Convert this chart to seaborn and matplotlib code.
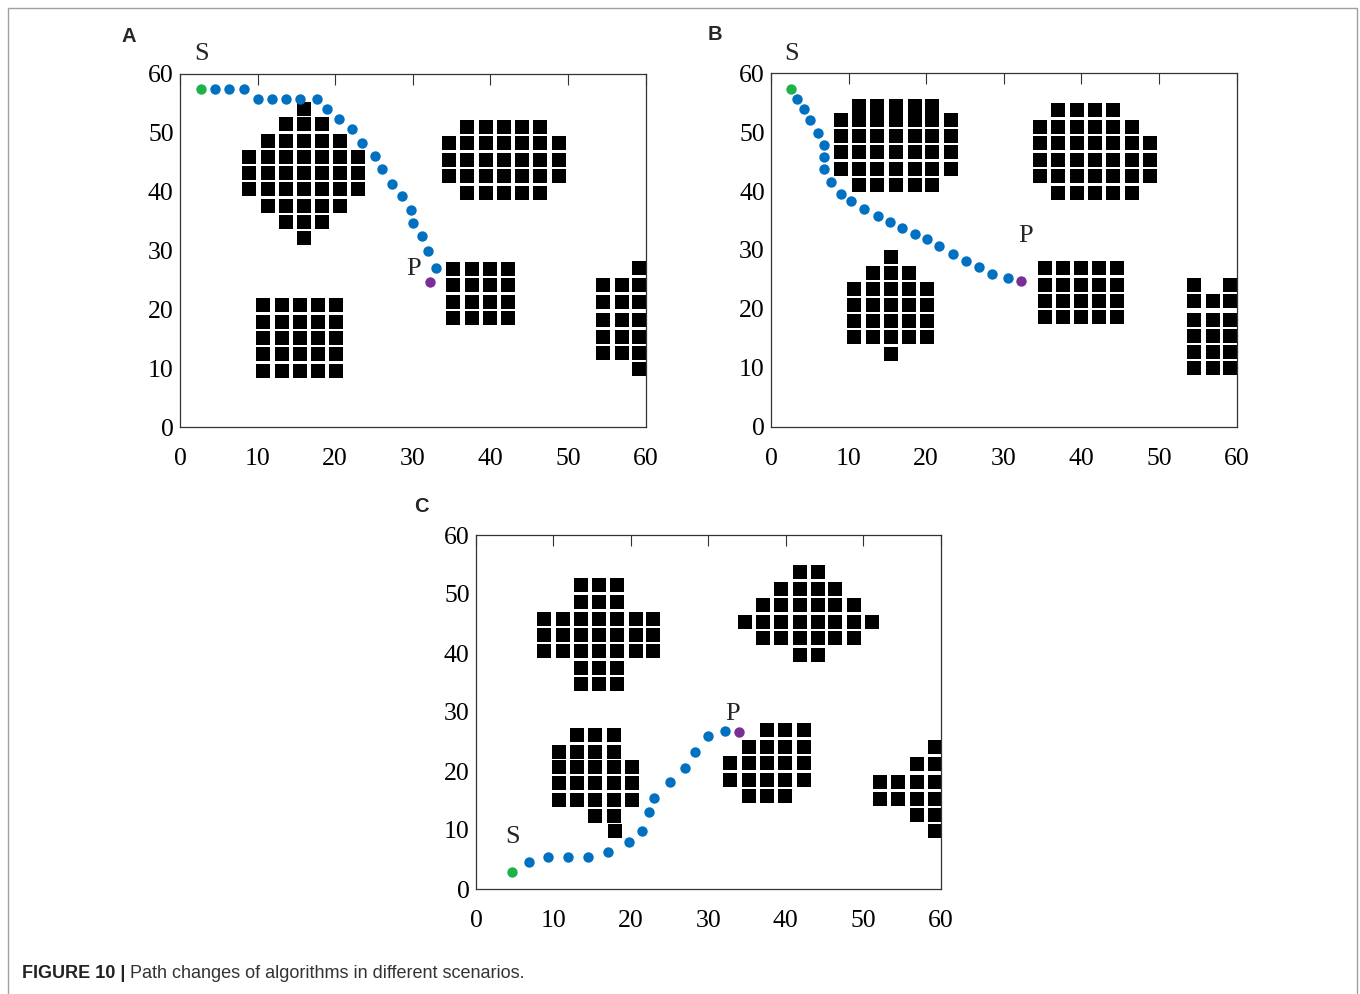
import pandas as pd
import seaborn as sns
import matplotlib.pyplot as plt
from matplotlib.patches import Rectangle

# obstacle squares per scenario, one entry per row: (y, [x of each square])
a_blocks = [
    (54.1, [16.0]),
    (51.5, [13.6, 16.0, 18.3]),
    (48.7, [11.3, 13.6, 16.0, 18.3, 20.6]),
    (45.9, [8.9, 11.3, 13.6, 16.0, 18.3, 20.6, 22.9]),
    (43.2, [8.9, 11.3, 13.6, 16.0, 18.3, 20.6, 22.9]),
    (40.4, [8.9, 11.3, 13.6, 16.0, 18.3, 20.6, 22.9]),
    (37.5, [11.3, 13.6, 16.0, 18.3, 20.6]),
    (34.9, [13.6, 16.0, 18.3]),
    (32.1, [16.0]),
    (20.7, [10.7, 13.1, 15.4, 17.8, 20.1]),
    (17.9, [10.7, 13.1, 15.4, 17.8, 20.1]),
    (15.2, [10.7, 13.1, 15.4, 17.8, 20.1]),
    (12.4, [10.7, 13.1, 15.4, 17.8, 20.1]),
    (9.6, [10.7, 13.1, 15.4, 17.8, 20.1]),
    (51.0, [37.0, 39.4, 41.7, 44.1, 46.4]),
    (48.2, [34.7, 37.0, 39.4, 41.7, 44.1, 46.4, 48.8]),
    (45.4, [34.7, 37.0, 39.4, 41.7, 44.1, 46.4, 48.8]),
    (42.6, [34.7, 37.0, 39.4, 41.7, 44.1, 46.4, 48.8]),
    (39.8, [37.0, 39.4, 41.7, 44.1, 46.4]),
    (26.9, [35.2, 37.6, 39.9, 42.3]),
    (24.1, [35.2, 37.6, 39.9, 42.3]),
    (21.3, [35.2, 37.6, 39.9, 42.3]),
    (18.6, [35.2, 37.6, 39.9, 42.3]),
    (27.1, [59.2]),
    (24.2, [54.5, 56.9, 59.2]),
    (21.3, [54.5, 56.9, 59.2]),
    (18.2, [54.5, 56.9, 59.2]),
    (15.3, [54.5, 56.9, 59.2]),
    (12.6, [54.5, 56.9, 59.2]),
    (9.9, [59.2]),
]

b_blocks = [
    (54.5, [11.4, 13.7, 16.1, 18.5, 20.8]),
    (52.1, [9.0, 11.4, 13.7, 16.1, 18.5, 20.8, 23.2]),
    (49.4, [9.0, 11.4, 13.7, 16.1, 18.5, 20.8, 23.2]),
    (46.6, [9.0, 11.4, 13.7, 16.1, 18.5, 20.8, 23.2]),
    (43.8, [9.0, 11.4, 13.7, 16.1, 18.5, 20.8, 23.2]),
    (41.0, [11.4, 13.7, 16.1, 18.5, 20.8]),
    (53.8, [37.0, 39.4, 41.8, 44.1]),
    (50.8, [34.7, 37.0, 39.4, 41.8, 44.1, 46.5]),
    (48.1, [34.7, 37.0, 39.4, 41.8, 44.1, 46.5, 48.8]),
    (45.3, [34.7, 37.0, 39.4, 41.8, 44.1, 46.5, 48.8]),
    (42.5, [34.7, 37.0, 39.4, 41.8, 44.1, 46.5, 48.8]),
    (39.7, [37.0, 39.4, 41.8, 44.1, 46.5]),
    (28.8, [15.4]),
    (26.1, [13.1, 15.4, 17.8]),
    (23.4, [10.7, 13.1, 15.4, 17.8, 20.1]),
    (20.7, [10.7, 13.1, 15.4, 17.8, 20.1]),
    (17.9, [10.7, 13.1, 15.4, 17.8, 20.1]),
    (15.2, [10.7, 13.1, 15.4, 17.8, 20.1]),
    (12.3, [15.4]),
    (26.9, [35.3, 37.6, 40.0, 42.3, 44.6]),
    (24.1, [35.3, 37.6, 40.0, 42.3, 44.6]),
    (21.3, [35.3, 37.6, 40.0, 42.3, 44.6]),
    (18.6, [35.3, 37.6, 40.0, 42.3, 44.6]),
    (24.1, [54.5, 59.2]),
    (21.3, [54.5, 56.9, 59.2]),
    (18.2, [54.5, 56.9, 59.2]),
    (15.4, [54.5, 56.9, 59.2]),
    (12.6, [54.5, 56.9, 59.2]),
    (10.0, [54.5, 56.9, 59.2]),
]

c_blocks = [
    (51.5, [13.5, 15.9, 18.2]),
    (48.6, [13.5, 15.9, 18.2]),
    (45.8, [8.8, 11.2, 13.5, 15.9, 18.2, 20.6, 22.9]),
    (43.1, [8.8, 11.2, 13.5, 15.9, 18.2, 20.6, 22.9]),
    (40.4, [8.8, 11.2, 13.5, 15.9, 18.2, 20.6, 22.9]),
    (37.5, [13.5, 15.9, 18.2]),
    (34.7, [13.5, 15.9, 18.2]),
    (53.7, [41.8, 44.1]),
    (50.9, [39.4, 41.8, 44.1, 46.4]),
    (48.1, [37.1, 39.4, 41.8, 44.1, 46.4, 48.8]),
    (45.3, [34.7, 37.1, 39.4, 41.8, 44.1, 46.4, 48.8, 51.1]),
    (42.5, [37.1, 39.4, 41.8, 44.1, 46.4, 48.8]),
    (39.7, [41.8, 44.1]),
    (26.1, [13.0, 15.4, 17.8]),
    (23.3, [10.7, 13.0, 15.4, 17.8]),
    (20.6, [10.7, 13.0, 15.4, 17.8, 20.1]),
    (17.9, [10.7, 13.0, 15.4, 17.8, 20.1]),
    (15.1, [10.7, 13.0, 15.4, 17.8, 20.1]),
    (12.3, [15.4, 17.8]),
    (9.8, [17.9]),
    (26.9, [37.6, 39.9, 42.3]),
    (24.1, [35.2, 37.6, 39.9, 42.3]),
    (21.4, [32.8, 35.2, 37.6, 39.9, 42.3]),
    (18.5, [32.8, 35.2, 37.6, 39.9, 42.3]),
    (15.7, [35.2, 37.6, 39.9]),
    (24.1, [59.2]),
    (21.2, [56.9, 59.2]),
    (18.1, [52.1, 54.5, 56.9, 59.2]),
    (15.3, [52.1, 54.5, 56.9, 59.2]),
    (12.6, [56.9, 59.2]),
    (9.9, [59.2]),
]

# path points, first = start S, last = end P
a_path_x = [2.7, 4.5, 6.3, 8.2, 10.0, 11.8, 13.6, 15.5, 17.6, 19.0, 20.5, 22.2,
            23.5, 25.1, 26.0, 27.3, 28.6, 29.8, 30.0, 31.2, 31.9, 33.0, 32.2]
a_path_y = [57.5, 57.5, 57.5, 57.5, 55.8, 55.8, 55.8, 55.8, 55.8, 54.1, 52.4, 50.6,
            48.3, 46.1, 43.8, 41.4, 39.2, 36.9, 34.7, 32.5, 30.0, 27.0, 24.7]

b_path_x = [2.6, 3.4, 4.2, 5.0, 6.0, 6.8, 6.8, 6.8, 7.7, 9.0, 10.3, 12.0, 13.8,
            15.3, 16.9, 18.6, 20.1, 21.7, 23.4, 25.1, 26.8, 28.5, 30.5, 32.2]
b_path_y = [57.3, 55.7, 54.0, 52.1, 49.9, 47.9, 45.8, 43.8, 41.6, 39.5, 38.3, 37.0, 35.7,
            34.8, 33.7, 32.7, 31.8, 30.7, 29.3, 28.2, 27.1, 26.0, 25.2, 24.7]

c_path_x = [4.7, 6.8, 9.3, 11.9, 14.5, 17.1, 19.7, 21.4, 22.3, 23.0, 25.1, 27.0,
            28.3, 30.0, 32.2, 34.0]
c_path_y = [2.9, 4.5, 5.4, 5.4, 5.4, 6.2, 7.9, 9.8, 13.1, 15.5, 18.1, 20.5,
            23.2, 25.9, 26.8, 26.6]

ticks = [0, 10, 20, 30, 40, 50, 60]

BLUE = "#0070c0"
GREEN = "#1fb24b"
PURPLE = "#7a2f94"
EDGE = "#333333"


def block_frame(rows):
    xs, ys = [], []
    for y, row in rows:
        xs += row
        ys += [y] * len(row)
    return pd.DataFrame({"x": xs, "y": ys})


def draw_panel(ax, blocks, path_x, path_y, p_off):
    sns.scatterplot(data=block_frame(blocks), x="x", y="y", marker="s", s=96,
                    color="black", linewidth=0, ax=ax)
    path = pd.DataFrame({"x": path_x, "y": path_y})
    sns.scatterplot(data=path.iloc[1:-1], x="x", y="y", s=56, color=BLUE, linewidth=0, ax=ax)
    sns.scatterplot(data=path.iloc[:1], x="x", y="y", s=56, color=GREEN, linewidth=0, ax=ax)
    sns.scatterplot(data=path.iloc[-1:], x="x", y="y", s=56, color=PURPLE, linewidth=0, ax=ax)
    ax.annotate("S", (path_x[0], path_y[0]), xytext=(0.4, 25), textcoords="offset points",
                ha="center", va="center", fontsize=19)
    ax.annotate("P", (path_x[-1], path_y[-1]), xytext=p_off, textcoords="offset points",
                ha="center", va="center", fontsize=19)
    ax.set(xlim=(0, 60), ylim=(0, 60), xlabel="", ylabel="")
    ax.set_xticks(ticks)
    ax.set_yticks(ticks)
    ax.tick_params(direction="in", length=8, width=0.8, color=EDGE, top=True, right=False,
                   labelsize=18.5, labelcolor="black")
    ax.tick_params(axis="x", pad=15)
    ax.tick_params(axis="y", pad=4.5)
    for sp in ax.spines.values():
        sp.set_color(EDGE)
        sp.set_linewidth(0.9)


sns.set_style("white")
plt.rcParams["font.family"] = ["Liberation Serif", "DejaVu Serif"]

W, H = 1360, 994
fig = plt.figure(figsize=(W / 100, H / 100), dpi=100)

ax_a = fig.add_axes([180 / W, 1 - 427.3 / H, 465.7 / W, 353.3 / H])
ax_b = fig.add_axes([771 / W, 1 - 426.7 / H, 465.7 / W, 353.4 / H])
ax_c = fig.add_axes([476 / W, 1 - 889 / H, 464.7 / W, 354 / H])

draw_panel(ax_a, a_blocks, a_path_x, a_path_y, (-11.7, 9.2))
draw_panel(ax_b, b_blocks, b_path_x, b_path_y, (3.5, 32.8))
draw_panel(ax_c, c_blocks, c_path_x, c_path_y, (-4.9, 13.3))

sans = ["Liberation Sans", "DejaVu Sans"]
for letter, (px, py) in zip("ABC", [(129, 36), (715, 35), (421, 506)]):
    fig.text(px / W, 1 - py / H, letter, family=sans, weight="bold", fontsize=14.5,
             ha="center", va="center")

# figure frame
fig.add_artist(Rectangle((8 / W, -0.02), 1349 / W, 1.02 - 8 / H, transform=fig.transFigure,
                         fill=False, edgecolor="#a0a0a0", linewidth=1))

cap = fig.text(22 / W, 1 - 973 / H, "FIGURE 10 |", family=sans, weight="bold",
               fontsize=13, color="#222222", ha="left", va="center")
ax_c.annotate(" Path changes of algorithms in different scenarios.", xy=(1, 0.5),
              xycoords=cap, ha="left", va="center", family=sans, fontsize=13,
              color="#333333", annotation_clip=False)

plt.savefig("out.png", dpi=100)
plt.close()
